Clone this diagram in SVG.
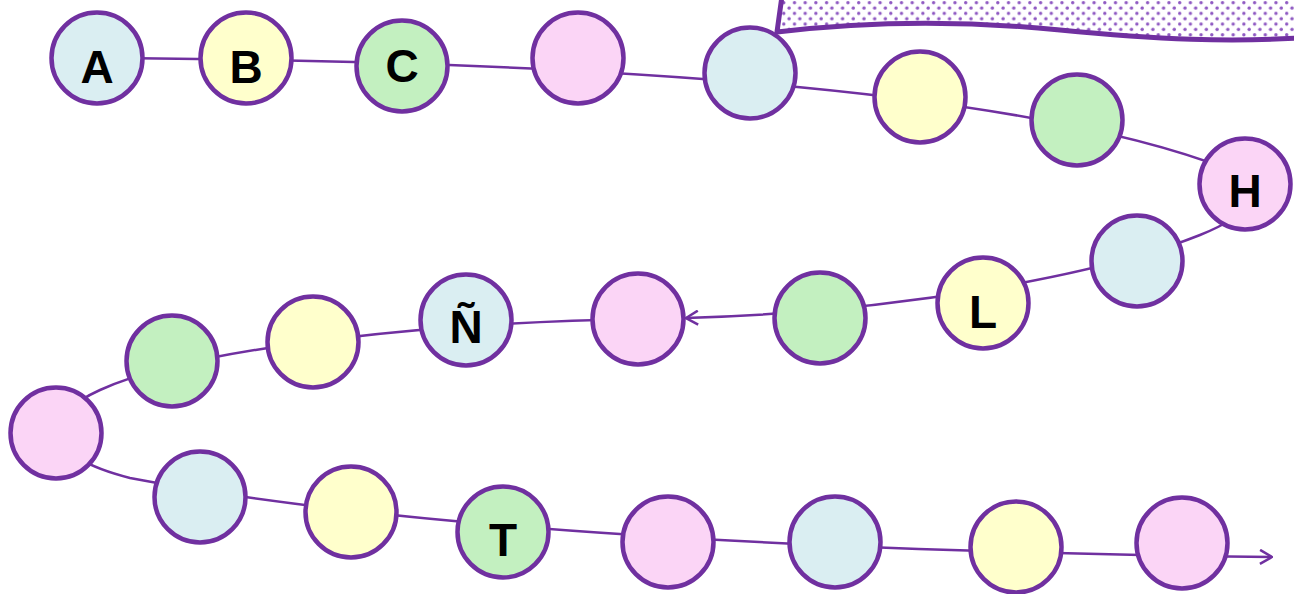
<svg xmlns="http://www.w3.org/2000/svg" width="1294" height="594" viewBox="0 0 1294 594">
<style>
.n{stroke:#7030A0;stroke-width:4.5}
.b{fill:#DAEEF2}.y{fill:#FFFFCC}.g{fill:#C3F0C0}.p{fill:#FBD5F6}
.c{fill:none;stroke:#7030A0;stroke-width:2.5}
.t{font-family:"Liberation Sans",Arial,sans-serif;font-weight:bold;font-size:46px;fill:#000;text-anchor:middle}
</style>
<defs>
<pattern id="dots" width="10.7" height="10.7" patternUnits="userSpaceOnUse">
<rect width="10.7" height="10.7" fill="#fff"/>
<circle cx="2.7" cy="2.7" r="1.7" fill="#8E58C2"/>
<circle cx="8" cy="8" r="1.7" fill="#8E58C2"/>
</pattern>
<marker id="ah" viewBox="0 0 14 16" refX="13" refY="8" markerWidth="14" markerHeight="16" markerUnits="userSpaceOnUse" orient="auto">
<path d="M1,1 L13,8 L1,15" fill="none" stroke="#7030A0" stroke-width="2.5"/>
</marker>
</defs>
<g id="banner">
<path d="M782,-4 L777,32 C860,22 960,20 1060,30 C1160,40 1230,42 1300,38 L1300,-4 Z" fill="url(#dots)" stroke="#7030A0" stroke-width="5"/>
</g>
<g id="connectors">
<path class="c" d="M97,58 C500,60 1000,80 1230,170 C1270,190 1250,215 1200,235 C1100,275 900,312 686,318" marker-end="url(#ah)"/>
<path class="c" d="M638,319 C450,322 200,345 100,390 C40,417 40,455 130,478 C350,520 700,550 1272,557" marker-end="url(#ah)"/>
</g>
<g id="nA"><circle class="n b" cx="97" cy="58" r="45.5"/><text class="t" x="97" y="83">A</text></g>
<g id="nB"><circle class="n y" cx="246" cy="58" r="45.5"/><text class="t" x="246" y="83">B</text></g>
<g id="nC"><circle class="n g" cx="402" cy="66" r="45.5"/><text class="t" x="402" y="82">C</text></g>
<g id="n4"><circle class="n p" cx="578" cy="58" r="45.5"/></g>
<g id="n5"><circle class="n b" cx="750" cy="73" r="45.5"/></g>
<g id="n6"><circle class="n y" cx="920" cy="97" r="45.5"/></g>
<g id="n7"><circle class="n g" cx="1077" cy="120" r="45.5"/></g>
<g id="nH"><circle class="n p" cx="1245" cy="184" r="45.5"/><text class="t" x="1245" y="207">H</text></g>
<g id="n9"><circle class="n b" cx="1137" cy="261" r="45.5"/></g>
<g id="nL"><circle class="n y" cx="983" cy="303" r="45.5"/><text class="t" x="983" y="328">L</text></g>
<g id="n11"><circle class="n g" cx="820" cy="318" r="45.5"/></g>
<g id="n12"><circle class="n p" cx="638" cy="319" r="45.5"/></g>
<g id="nN"><circle class="n b" cx="466" cy="320" r="45.5"/><text class="t" x="466" y="343">Ñ</text></g>
<g id="n14"><circle class="n y" cx="313" cy="342" r="45.5"/></g>
<g id="n15"><circle class="n g" cx="172" cy="361" r="45.5"/></g>
<g id="n16"><circle class="n p" cx="56" cy="433" r="45.5"/></g>
<g id="n17"><circle class="n b" cx="200" cy="497" r="45.5"/></g>
<g id="n18"><circle class="n y" cx="351" cy="512" r="45.5"/></g>
<g id="nT"><circle class="n g" cx="503" cy="532" r="45.5"/><text class="t" x="503" y="556">T</text></g>
<g id="n20"><circle class="n p" cx="668" cy="542" r="45.5"/></g>
<g id="n21"><circle class="n b" cx="835" cy="542" r="45.5"/></g>
<g id="n22"><circle class="n y" cx="1016" cy="547" r="45.5"/></g>
<g id="n23"><circle class="n p" cx="1182" cy="543" r="45.5"/></g>
</svg>
